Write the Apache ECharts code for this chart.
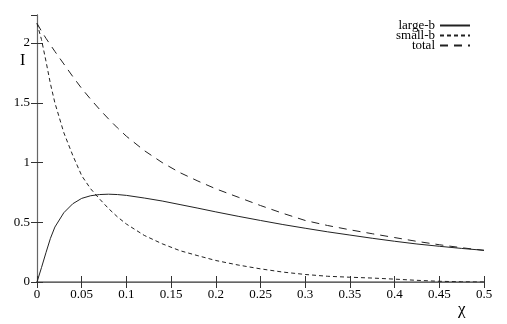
<!DOCTYPE html>
<html>
<head>
<meta charset="utf-8">
<script src="https://cdn.jsdelivr.net/npm/echarts@6/dist/echarts.min.js"></script>
<style>html,body{margin:0;padding:0;background:#fff}#c{width:507px;height:324px}</style>
</head>
<body>
<div id="c"></div>
<script>
var xs = [0, 0.005, 0.01, 0.015, 0.02, 0.03, 0.04, 0.05, 0.06, 0.07, 0.08, 0.09, 0.1, 0.12, 0.14, 0.16, 0.18, 0.2, 0.225, 0.25, 0.275, 0.3, 0.325, 0.35, 0.375, 0.4, 0.425, 0.45, 0.475, 0.5];
var largeB = [0, 0.12, 0.245, 0.365, 0.46, 0.58, 0.655, 0.70, 0.722, 0.732, 0.735, 0.732, 0.725, 0.703, 0.678, 0.648, 0.618, 0.587, 0.55, 0.515, 0.481, 0.45, 0.42, 0.393, 0.366, 0.341, 0.318, 0.299, 0.281, 0.265];
var smallB = [2.165, 2.03, 1.85, 1.66, 1.50, 1.25, 1.06, 0.89, 0.78, 0.695, 0.615, 0.545, 0.485, 0.39, 0.32, 0.262, 0.22, 0.18, 0.142, 0.11, 0.083, 0.063, 0.048, 0.04, 0.033, 0.024, 0.014, 0.006, 0.002, 0];
var total = [2.165, 2.10, 2.04, 1.985, 1.93, 1.825, 1.72, 1.62, 1.53, 1.445, 1.365, 1.29, 1.22, 1.10, 1.00, 0.915, 0.845, 0.78, 0.71, 0.64, 0.575, 0.515, 0.473, 0.437, 0.404, 0.372, 0.34, 0.312, 0.287, 0.265];
var seriesNames = ['large-b', 'small-b', 'total'];
var xLabel = 'χ';
var yLabel = 'I';

function pairs(ys) { return xs.map(function (x, i) { return [x, ys[i]]; }); }

var font = 'Liberation Serif';
var axisCol = '#333';
var chart = echarts.init(document.getElementById('c'));
var yFmt = function (v) { return Math.abs(v / 0.5 - Math.round(v / 0.5)) < 1e-6 ? String(v) : ''; };
chart.setOption({
  animation: false,
  grid: { left: 37, right: 23, top: 15, bottom: 42 },
  xAxis: [{
    type: 'value', min: 0, max: 0.5, interval: 0.05,
    axisLine: { lineStyle: { color: axisCol, width: 1 } },
    axisTick: { inside: true, length: 6, lineStyle: { color: axisCol } },
    axisLabel: { fontFamily: font, fontSize: 13, color: '#000', margin: 6 },
    splitLine: { show: false }
  }, {
    type: 'value', min: 0, max: 0.5, interval: 0.05, position: 'top',
    axisLine: { show: true, lineStyle: { color: '#777', width: 1.5 } },
    axisTick: { inside: true, length: 6, lineStyle: { color: axisCol } },
    axisLabel: { show: false }, splitLine: { show: false }
  }],
  yAxis: [{
    type: 'value', min: 0, max: 2.235, interval: 0.5,
    axisLine: { show: true, lineStyle: { color: axisCol, width: 1 } },
    axisTick: { inside: true, length: 6, lineStyle: { color: axisCol } },
    axisLabel: { fontFamily: font, fontSize: 13, color: '#000', margin: 7, formatter: yFmt, showMaxLabel: false },
    splitLine: { show: false }
  }, {
    type: 'value', min: 0, max: 2.235, interval: 0.5, position: 'right',
    axisLine: { show: true, lineStyle: { color: '#666', width: 1.2 } },
    axisTick: { inside: true, length: 6, lineStyle: { color: axisCol } },
    axisLabel: { show: false }, splitLine: { show: false }
  }],
  legend: {
    orient: 'vertical', right: 36, top: 19, align: 'right',
    itemWidth: 30, itemHeight: 8, itemGap: -3, padding: 0,
    itemStyle: { opacity: 0 },
    textStyle: { fontFamily: font, fontSize: 13, color: '#000' },
    data: seriesNames
  },
  graphic: [
    { type: 'text', left: 20, top: 53, style: { text: yLabel, font: '16px "Liberation Serif"', fill: '#000' } },
    { type: 'text', left: 458, top: 301, style: { text: xLabel, font: '17px "Liberation Serif"', fill: '#000' } }
  ],
  series: [
    { name: seriesNames[0], type: 'line', data: pairs(largeB), showSymbol: false, symbol: 'none', smooth: false,
      lineStyle: { color: '#222', width: 1, type: 'solid' }, itemStyle: { color: '#222' } },
    { name: seriesNames[1], type: 'line', data: pairs(smallB), showSymbol: false, symbol: 'none',
      lineStyle: { color: '#222', width: 1, type: [4, 3] }, itemStyle: { color: '#222' } },
    { name: seriesNames[2], type: 'line', data: pairs(total), showSymbol: false, symbol: 'none',
      lineStyle: { color: '#222', width: 1, type: [8, 6] }, itemStyle: { color: '#222' } }
  ]
});
</script>
</body>
</html>
